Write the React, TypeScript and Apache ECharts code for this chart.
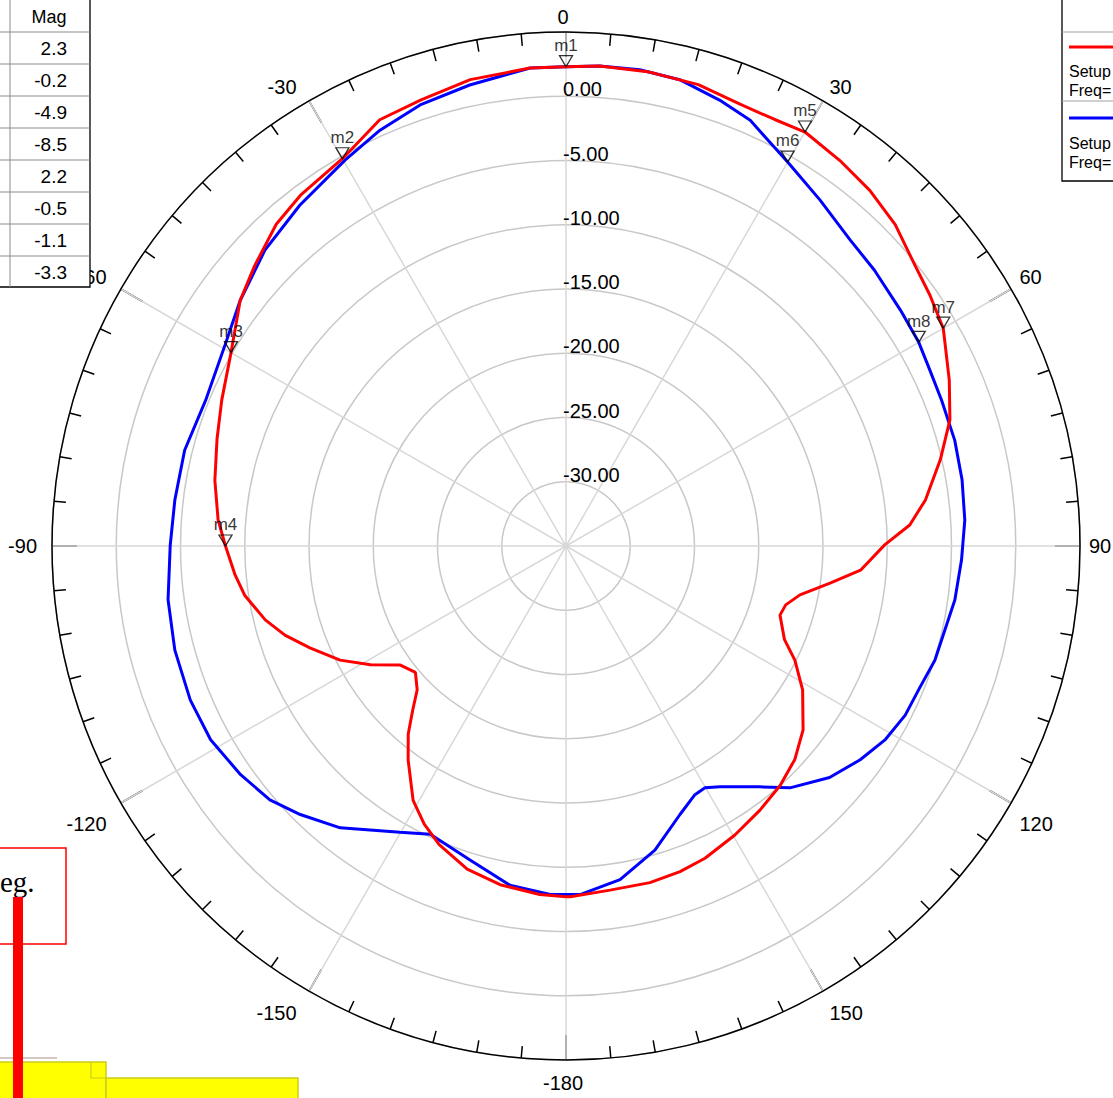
import React, { useEffect, useRef } from 'react';
import * as echarts from 'echarts';

const FONT = "'Liberation Sans', Arial, sans-serif";

const radiusMin = -35;
const radiusMax = 5;
const radiusStep = 5;
const angleStep = 30;

// Trace 1 (red): angle in degrees, magnitude in dB
const redAngles = [-180, -175.7, -169, -163, -157, -153, -149, -143.6, -140, -137, -134, -130, -125.6, -121.3, -116.8, -111.7, -107.6, -103.8, -98.7, -95, -90, -85.7, -79.4, -73, -67, -60, -53, -48, -42, -37, -30, -23.6, -18, -11.6, -4.3, 0, 4, 10, 16, 21.5, 26, 30, 35.4, 40.5, 45.7, 51.2, 55.4, 60, 66.6, 71.8, 77, 82.7, 86.5, 89.8, 94.7, 98, 101.8, 105, 107.9, 113.2, 116.5, 121.3, 127.8, 133, 138.2, 143.7, 149.7, 156, 160.7, 166, 172.7, 179.3];
const redMags = [-7.7, -7.8, -8.15, -8.7, -9.75, -10.7, -11.9, -14.3, -15.9, -17.5, -18.9, -19.7, -19.1, -17.2, -15.3, -13.55, -12.05, -10.9, -9.7, -9.15, -8.5, -7.85, -7.2, -6.6, -5.9, -4.9, -3.25, -2.4, -1.3, -0.75, -0.2, 1.2, 1.5, 2.05, 2.3, 2.3, 2.45, 2.45, 2.35, 1.95, 1.95, 2.2, 1.8, 1.4, 0.8, -0.15, -0.6, -1.1, -2.5, -3.55, -5.1, -6.8, -8.2, -10.2, -12.0, -14.25, -16.4, -17.3, -17.5, -16.5, -15.1, -13.45, -11.65, -10.65, -10.0, -9.5, -8.95, -8.4, -8.15, -8.0, -8.0, -7.7];

// Trace 2 (blue)
const blueAngles = [-177.4, -170.6, -163, -154.8, -149.9, -145.4, -141.3, -135.3, -130.6, -125.1, -118.6, -112.3, -104.9, -97.7, -89.9, -83.3, -75.9, -68, -59.5, -53, -45.5, -38, -29.8, -24.1, -18.3, -11.8, -4.3, 0, 4, 8.8, 13.7, 19, 23.4, 30, 36.3, 42.9, 48.2, 54.8, 60, 64.2, 68.8, 74.8, 80.5, 86.3, 92, 97.9, 102.5, 107.2, 111.9, 116.5, 121.3, 126, 131.3, 137.2, 141.2, 144.2, 147.4, 150.1, 152.6, 157, 163.7, 170.8, 177.7];
const blueMags = [-7.85, -8.25, -9.45, -10.2, -9.25, -8.15, -6.9, -5.6, -4.65, -4.05, -3.5, -3.4, -3.5, -3.75, -4.2, -4.35, -4.4, -4.75, -4.2, -3.25, -2.15, -1.35, -0.4, 0.45, 1.15, 1.65, 2.3, 2.3, 2.45, 2.5, 2.35, 1.7, 1.1, -0.5, -1.6, -2.5, -2.8, -3.15, -3.3, -3.55, -3.65, -3.65, -3.75, -3.9, -4.2, -4.45, -4.8, -4.95, -5.35, -5.5, -5.95, -6.7, -7.7, -9.35, -10.95, -11.9, -12.75, -13.3, -13.2, -12.3, -10.35, -8.7, -7.85];

// Markers
const markerNames = ['m1', 'm2', 'm3', 'm4', 'm5', 'm6', 'm7', 'm8'];
const markerAngles = [0, -30, -60, -90, 30, 30, 60, 60];
const markerMags = [2.3, -0.2, -4.9, -8.5, 2.2, -0.5, -1.1, -3.3];

const tableHeader = 'Mag';
const legendTexts = ['Setup', 'Freq='];
const noteText = 'eg.';

const toAxisAngle = (a: number) => (a < 0 ? a + 360 : a);
const buildLine = (angles: number[], mags: number[]) => {
  const pts = angles.map((a, i) => [mags[i], toAxisAngle(a)]);
  pts.push(pts[0]);
  return pts;
};

export default function App() {
  const ref = useRef<HTMLDivElement>(null);
  useEffect(() => {
    if (!ref.current) return;
    const chart = echarts.init(ref.current, undefined, { renderer: 'svg' });

    const tableEls: any[] = [];
    tableEls.push({ type: 'rect', z: 100, shape: { x: -2, y: -2, width: 92, height: 289 }, style: { fill: '#fff', stroke: '#000', lineWidth: 1.3 } });
    tableEls.push({ type: 'line', z: 101, shape: { x1: 10, y1: 0, x2: 10, y2: 287 }, style: { stroke: '#8c8c8c', lineWidth: 1 } });
    for (let i = 1; i <= markerMags.length; i++) {
      tableEls.push({ type: 'line', z: 101, shape: { x1: 0, y1: i * 32, x2: 90, y2: i * 32 }, style: { stroke: '#8c8c8c', lineWidth: 1 } });
    }
    tableEls.push({ type: 'text', z: 102, x: 49, y: 17, style: { text: tableHeader, fontSize: 18, fontFamily: FONT, fill: '#000', align: 'center', verticalAlign: 'middle' } });
    markerMags.forEach((m, i) => {
      tableEls.push({ type: 'text', z: 102, x: 67, y: 48 + i * 32, style: { text: m.toFixed(1), fontSize: 19, fontFamily: FONT, fill: '#000', align: 'right', verticalAlign: 'middle' } });
    });

    const legendEls: any[] = [
      { type: 'rect', z: 100, shape: { x: 1062, y: -2, width: 60, height: 183 }, style: { fill: '#fff', stroke: '#000', lineWidth: 1.3 } },
      { type: 'line', z: 101, shape: { x1: 1062, y1: 32, x2: 1113, y2: 32 }, style: { stroke: '#a0a0a0', lineWidth: 1 } },
      { type: 'line', z: 101, shape: { x1: 1062, y1: 101, x2: 1113, y2: 101 }, style: { stroke: '#a0a0a0', lineWidth: 1 } },
      { type: 'line', z: 101, shape: { x1: 1069, y1: 47, x2: 1113, y2: 47 }, style: { stroke: '#ff0000', lineWidth: 3 } },
      { type: 'line', z: 101, shape: { x1: 1069, y1: 118, x2: 1113, y2: 118 }, style: { stroke: '#0000ff', lineWidth: 3 } },
      { type: 'text', z: 102, x: 1069, y: 71, style: { text: legendTexts[0], fontSize: 16, fontFamily: FONT, fill: '#000', verticalAlign: 'middle' } },
      { type: 'text', z: 102, x: 1069, y: 90, style: { text: legendTexts[1], fontSize: 16, fontFamily: FONT, fill: '#000', verticalAlign: 'middle' } },
      { type: 'text', z: 102, x: 1069, y: 143, style: { text: legendTexts[0], fontSize: 16, fontFamily: FONT, fill: '#000', verticalAlign: 'middle' } },
      { type: 'text', z: 102, x: 1069, y: 162, style: { text: legendTexts[1], fontSize: 16, fontFamily: FONT, fill: '#000', verticalAlign: 'middle' } },
    ];

    const docEls: any[] = [
      { type: 'line', z: 100, shape: { x1: 0, y1: 1058, x2: 57, y2: 1058 }, style: { stroke: '#c8b4b4', lineWidth: 1.5 } },
      { type: 'rect', z: 100, shape: { x: -2, y: 1062, width: 108, height: 40 }, style: { fill: '#ffff00', stroke: '#cccc20', lineWidth: 1.5 } },
      { type: 'rect', z: 100, shape: { x: 106, y: 1078, width: 192, height: 25 }, style: { fill: '#ffff00', stroke: '#cccc20', lineWidth: 1.5 } },
      { type: 'polyline', z: 101, shape: { points: [[91, 1062], [91, 1078], [106, 1078]] }, style: { stroke: '#cccc20', lineWidth: 1.2, fill: 'none' } },
      { type: 'rect', z: 100, shape: { x: -2, y: 848, width: 68, height: 96 }, style: { fill: '#fff', stroke: '#ff0000', lineWidth: 1.5 } },
      { type: 'text', z: 102, x: 0, y: 882, style: { text: noteText, fontSize: 29, fontFamily: "'Liberation Serif', 'DejaVu Serif', serif", fill: '#000', verticalAlign: 'middle' } },
      { type: 'rect', z: 103, shape: { x: 13, y: 897, width: 10, height: 210 }, style: { fill: '#ff0000' } },
    ];

    chart.setOption({
      animation: false,
      polar: { center: [566, 546], radius: 514 },
      angleAxis: {
        type: 'value',
        min: 0,
        max: 360,
        interval: angleStep,
        startAngle: 90,
        clockwise: true,
        axisLine: { show: true, lineStyle: { color: '#000', width: 1.5 } },
        axisTick: { show: true, inside: true, length: 25, lineStyle: { color: '#000', width: 1.5 } },
        minorTick: { show: true, splitNumber: 6, length: 12, lineStyle: { color: '#000', width: 1.5 } },
        axisLabel: {
          show: true,
          margin: 5,
          padding: [8, 10, 0, 4],
          fontSize: 20,
          lineHeight: 20,
          color: '#000',
          fontFamily: FONT,
          formatter: (v: number) => (v >= 360 ? '' : String(v >= 180 ? v - 360 : v)),
        },
        splitLine: { show: true, lineStyle: { color: '#d8d8d8', width: 1.5 } },
      },
      radiusAxis: {
        type: 'value',
        min: radiusMin,
        max: radiusMax,
        interval: radiusStep,
        axisLine: { show: false },
        axisTick: { show: false },
        axisLabel: {
          show: true,
          margin: 3,
          align: 'left',
          verticalAlign: 'bottom',
          lineHeight: 14,
          fontSize: 20,
          color: '#000',
          fontFamily: FONT,
          formatter: (v: number) => (v <= radiusMin || v >= radiusMax ? '' : v.toFixed(2)),
        },
        splitLine: { show: true, lineStyle: { color: '#c8c8c8', width: 1.5 } },
      },
      series: [
        {
          type: 'line',
          name: 'blue',
          coordinateSystem: 'polar',
          data: buildLine(blueAngles, blueMags),
          symbol: 'none',
          lineStyle: { color: '#0000ff', width: 3 },
          z: 3,
        },
        {
          type: 'line',
          name: 'red',
          coordinateSystem: 'polar',
          data: buildLine(redAngles, redMags),
          symbol: 'none',
          lineStyle: { color: '#ff0000', width: 3 },
          z: 3,
        },
        {
          type: 'scatter',
          coordinateSystem: 'polar',
          data: markerNames.map((n, i) => ({ name: n, value: [markerMags[i], toAxisAngle(markerAngles[i])] })),
          symbol: 'triangle',
          symbolRotate: 180,
          symbolSize: [13, 11],
          symbolOffset: [0, -5.5],
          itemStyle: { color: 'rgba(255,255,255,0)', borderColor: '#000', borderWidth: 1.3 },
          label: { show: true, position: 'top', distance: 1, formatter: '{b}', fontSize: 17, color: '#000', fontFamily: FONT },
          z: 5,
        },
      ],
      graphic: { elements: [...docEls, ...tableEls, ...legendEls] },
    });
    return () => chart.dispose();
  }, []);
  return <div ref={ref} style={{ position: 'absolute', left: 0, top: 0, width: 1113, height: 1098 }} />;
}
